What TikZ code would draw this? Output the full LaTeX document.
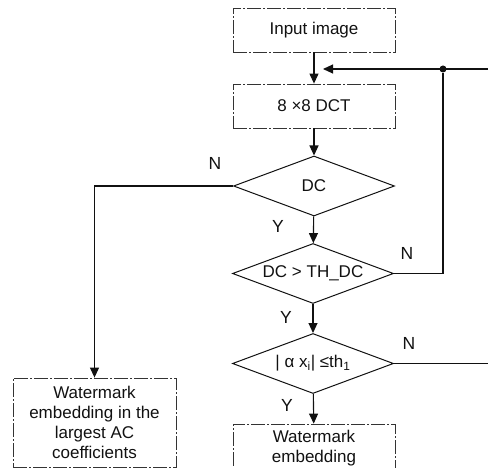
\documentclass[tikz,border=0pt]{standalone}
\usepackage{fontspec}
\setmainfont{Liberation Sans}
\usepackage{tikz}
\usetikzlibrary{arrows.meta,shapes.geometric,positioning}
\definecolor{cInk}{HTML}{111111}
\definecolor{cFrame}{HTML}{333333}
\tikzset{
  procbox/.style={rectangle,draw=cFrame,line width=.8pt,dash pattern=on 14pt off 2pt on 2pt off 2pt,
    inner sep=0pt,align=center,font=\fontsize{17}{20}\selectfont,text=cInk},
  test/.style={diamond,draw=cInk,line width=1pt,inner sep=0pt,aspect=2.7,
    minimum width=161pt,minimum height=60pt,font=\fontsize{17}{20}\selectfont,text=cInk},
  yn/.style={font=\fontsize{17.5}{20}\selectfont,text=cInk},
  flow/.style={-{Triangle[length=10pt,width=9pt]},line width=1.1pt,cInk},
  wire/.style={line width=1.1pt,cInk},
  junc/.style={circle,fill=cInk,inner sep=0pt,minimum size=7pt},
}
\begin{document}
\begin{tikzpicture}[x=1pt,y=-1pt]
  \useasboundingbox (0,0) rectangle (488,468);
  \clip (0,0) rectangle (488,468);
  % main column
  \node[procbox,minimum width=162pt,minimum height=44pt] (input) at (314,30) {Input image};
  \node[procbox,minimum width=162pt,minimum height=44pt] (dct) at (314,106) {8 ×8 DCT};
  \node[test] (dc) at (314,186) {DC};
  \node[test] (th) at (313,273.5) {DC > TH\_DC};
  \node[test] (alpha) at (313,363.5) {| α x\textsubscript{i}| ≤th\textsubscript{1}};
  \node[procbox,minimum width=162pt,minimum height=48pt] (embed) at (314,448) {Watermark\\embedding};
  % side box
  \node[procbox,minimum width=163pt,minimum height=89pt] (acbox) at (94.5,422.5)
    {Watermark\\embedding in the\\largest AC\\coefficients};
  % feedback junction
  \node[junc] (jn) at (443,69) {};
  \coordinate (merge) at (323,69);
  \coordinate (rin) at (490,69);
  \coordinate (rout) at (490,363.5);
  % connectors
  \draw[flow] (input) -- (dct);
  \draw[flow] (dct) -- (dc);
  \draw[flow] (dc) -- (th);
  \draw[flow] (th) -- (alpha);
  \draw[flow] (alpha) -- (embed);
  \draw[flow] (dc.west) -| (acbox.north);
  \draw[wire] (th.east) -| (jn);
  \draw[flow] (rin) -- (merge);
  \draw[wire] (alpha.east) -- (rout);
  % branch labels
  \node[yn] (n1) at (215,163) {N};
  \node[yn] (y1) at (278,226) {Y};
  \node[yn] (n2) at (407,253) {N};
  \node[yn] (y2) at (286,317) {Y};
  \node[yn] (n3) at (409,343) {N};
  \node[yn] (y3) at (287,405) {Y};
\end{tikzpicture}
\end{document}
